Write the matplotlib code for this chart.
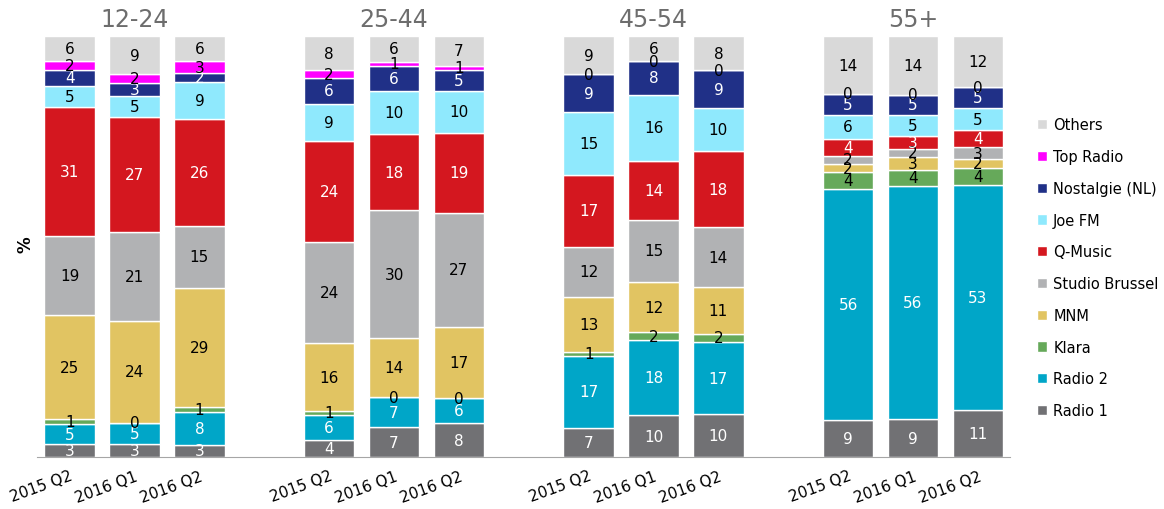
import matplotlib.pyplot as plt
import numpy as np

groups = ["12-24", "25-44", "45-54", "55+"]
periods = ["2015 Q2", "2016 Q1", "2016 Q2"]
stations = ["Radio 1", "Radio 2", "Klara", "MNM", "Studio Brussel",
            "Q-Music", "Joe FM", "Nostalgie (NL)", "Top Radio", "Others"]
colors = ["#717174", "#00a6c8", "#66a95a", "#e1c462", "#b1b2b4",
          "#d4171f", "#8fe9fd", "#203087", "#ff00ff", "#d9d9d9"]
text_colors = ["white", "white", "black", "black", "black",
               "white", "black", "white", "black", "black"]

# one row per bar (group x period), columns in the order of stations
values = np.array([
    [3, 5, 1, 25, 19, 31, 5, 4, 2, 6],
    [3, 5, 0, 24, 21, 27, 5, 3, 2, 9],
    [3, 8, 1, 29, 15, 26, 9, 2, 3, 6],
    [4, 6, 1, 16, 24, 24, 9, 6, 2, 8],
    [7, 7, 0, 14, 30, 18, 10, 6, 1, 6],
    [8, 6, 0, 17, 27, 19, 10, 5, 1, 7],
    [7, 17, 1, 13, 12, 17, 15, 9, 0, 9],
    [10, 18, 2, 12, 15, 14, 16, 8, 0, 6],
    [10, 17, 2, 11, 14, 18, 10, 9, 0, 8],
    [9, 56, 4, 2, 2, 4, 6, 5, 0, 14],
    [9, 56, 4, 3, 2, 3, 5, 5, 0, 14],
    [11, 53, 4, 2, 3, 4, 5, 5, 0, 12],
])

x = np.array([g * 4 + p for g in range(len(groups)) for p in range(len(periods))])
heights = values / values.sum(axis=1, keepdims=True) * 100

fig = plt.figure(figsize=(11.64, 5.1), dpi=100)
ax = fig.add_axes([0.032, 0.102, 0.836, 0.825])

bottom = np.zeros(len(x))
for i, name in enumerate(stations):
    h = heights[:, i]
    ax.bar(x, h, 0.78, bottom=bottom, color=colors[i], edgecolor="white",
           linewidth=1, label=name)
    for xi, b, hh, v in zip(x, bottom, h, values[:, i]):
        ax.text(xi, b + hh / 2, str(v), ha="center", va="center",
                fontsize=11, color=text_colors[i])
    bottom += h

ax.set_xlim(-0.5, 14.5)
ax.set_ylim(0, 100)
ax.set_xticks(x)
ax.set_xticklabels(periods * len(groups), rotation=20, fontsize=11,
                   ha="right", rotation_mode="anchor")
ax.tick_params(axis="x", length=0, pad=8)
ax.set_yticks([])
for s in ["top", "right", "left"]:
    ax.spines[s].set_visible(False)
ax.spines["bottom"].set_color("#a6a6a6")

for g, name in enumerate(groups):
    ax.text(g * 4 + 1, 104, name, ha="center", va="center", fontsize=17,
            color="#6d6d6d")

fig.text(0.022, 0.52, "%", rotation=90, fontweight="bold", fontsize=12,
         ha="center", va="center")

handles, labels = ax.get_legend_handles_labels()
fig.legend(handles[::-1], labels[::-1], loc="center left",
           bbox_to_anchor=(0.891, 0.473), frameon=False, fontsize=10.5,
           handlelength=0.7, handleheight=0.7, handletextpad=0.4,
           labelspacing=1.15, borderpad=0, borderaxespad=0)

fig.savefig("out.png")
